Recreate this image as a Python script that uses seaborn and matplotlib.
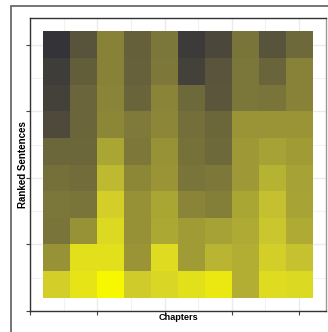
import numpy as np
import pandas as pd
import matplotlib
matplotlib.use("Agg")
import matplotlib.pyplot as plt
from matplotlib.colors import LinearSegmentedColormap
from matplotlib.patches import Rectangle
import seaborn as sns

# chapter / rank labels
chapters = [f"Ch{i}" for i in range(1, 11)]
ranks = [f"R{i}" for i in range(1, 11)]

# score per ranked sentence (rows, top to bottom) and chapter (columns)
row_0 = [0.00, 0.18, 0.45, 0.25, 0.38, 0.05, 0.12, 0.37, 0.18, 0.30]
row_1 = [0.06, 0.24, 0.45, 0.26, 0.39, 0.08, 0.19, 0.38, 0.27, 0.45]
row_2 = [0.08, 0.28, 0.46, 0.27, 0.46, 0.30, 0.20, 0.38, 0.37, 0.45]
row_3 = [0.13, 0.28, 0.48, 0.40, 0.47, 0.33, 0.29, 0.55, 0.55, 0.55]
row_4 = [0.29, 0.29, 0.63, 0.39, 0.54, 0.35, 0.30, 0.57, 0.61, 0.58]
row_5 = [0.34, 0.32, 0.72, 0.48, 0.55, 0.37, 0.39, 0.57, 0.69, 0.61]
row_6 = [0.38, 0.37, 0.82, 0.53, 0.63, 0.46, 0.43, 0.63, 0.75, 0.62]
row_7 = [0.37, 0.54, 0.86, 0.53, 0.64, 0.58, 0.61, 0.65, 0.78, 0.65]
row_8 = [0.54, 0.89, 0.89, 0.55, 0.87, 0.58, 0.70, 0.67, 0.82, 0.76]
row_9 = [0.82, 0.91, 1.00, 0.80, 0.85, 0.89, 0.93, 0.67, 0.87, 0.86]

scores = pd.DataFrame([row_0, row_1, row_2, row_3, row_4,
                       row_5, row_6, row_7, row_8, row_9],
                      index=ranks, columns=chapters)

# dark grey -> yellow gradient
cmap = LinearSegmentedColormap.from_list("grey_yellow", [
    (0.00, "#333338"), (0.15, "#524d3b"), (0.30, "#6e693a"),
    (0.45, "#878238"), (0.55, "#9a9436"), (0.65, "#aeaa34"),
    (0.75, "#c3bf30"), (0.85, "#dad625"), (1.00, "#f7f700")])

W, H = 328, 332
fig = plt.figure(figsize=(W / 100, H / 100), dpi=100)
fig.patch.set_facecolor("white")

# outer frame (cropped at right/bottom)
fig.patches.append(Rectangle((10.5 / W, -0.1), 1.2, 1.1 - 6.5 / H,
                             transform=fig.transFigure, fill=False,
                             ec="#6a6a6a", lw=1.3))

ax = fig.add_axes([30 / W, 1 - 311 / H, 296 / W, 293 / H])
sns.heatmap(scores, ax=ax, cmap=cmap, vmin=0, vmax=1, cbar=False,
            linewidths=0)

ax.set_xlim(-0.5, 10.5)
ax.set_ylim(10.5, -0.5)
ax.set_xticks([-0.5, 2, 4.5, 7, 9.5])
ax.set_xticks([0.75, 3.25, 5.75, 8.25], minor=True)
ax.set_yticks([10.5, 8, 5.5, 3, 0.5])
ax.set_yticks([9.25, 6.75, 4.25, 1.75], minor=True)
ax.set_xticklabels([])
ax.set_yticklabels([])
ax.set_xlabel("")
ax.set_ylabel("")
ax.set_axisbelow(True)
ax.grid(True, which="major", color="#ebebeb", lw=1.0)
ax.grid(True, which="minor", color="#f2f2f2", lw=0.8)
ax.tick_params(which="major", direction="out", length=3, width=0.8,
               color="#444444")
ax.tick_params(which="minor", length=0)
for name, sp in ax.spines.items():
    sp.set_visible(True)
    sp.set_color("#333333")
    sp.set_linewidth(1.0)
ax.spines["right"].set_color("#999999")

fig.text(178 / W, 1 - 317 / H, "Chapters", ha="center", va="center",
         fontsize=6.6, fontweight="bold", family="Liberation Sans")
fig.text(23 / W, 1 - 165 / H, "Ranked Sentences", ha="center", va="center",
         rotation=90, fontsize=7, fontweight="bold", family="Liberation Sans")

fig.savefig("out.png", dpi=100)
